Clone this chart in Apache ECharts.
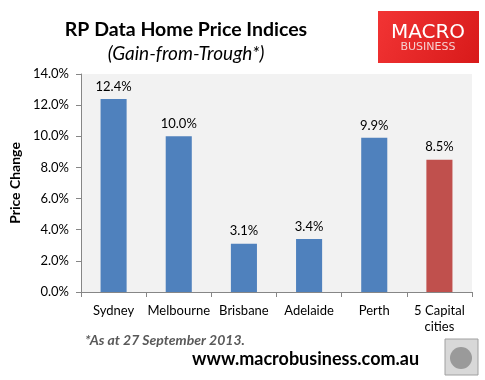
<!DOCTYPE html>
<html><head><meta charset="utf-8">
<script src="https://cdn.jsdelivr.net/npm/echarts@6/dist/echarts.min.js"></script>
<style>html,body{margin:0;padding:0;background:#fff}#c{width:485px;height:380px}</style>
</head><body><div id="c"></div>
<script>
const categories = ['Sydney', 'Melbourne', 'Brisbane', 'Adelaide', 'Perth', '5 Capital\ncities'];
const values = [12.4, 10.0, 3.1, 3.4, 9.9, 8.5];
const barColors = ['#4f81bd', '#4f81bd', '#4f81bd', '#4f81bd', '#4f81bd', '#c0504d'];
const yTicks = [0, 2, 4, 6, 8, 10, 12, 14];

const font = 'Lato, "Open Sans", sans-serif';
const chart = echarts.init(document.getElementById('c'), null, {renderer: 'canvas'});
chart.setOption({
  animation: false,
  backgroundColor: '#ffffff',
  grid: {left: 68, right: 13, top: 74, bottom: 88, containLabel: false,
         show: true, backgroundColor: '#f2f2f2', borderWidth: 0},
  title: [
    {text: 'RP Data Home Price Indices', left: 181, top: 15, textAlign: 'center',
     textStyle: {fontFamily: font, fontWeight: 'bold', fontSize: 19.5, color: '#000'}},
    {text: '(Gain-from-Trough*)', left: 181, top: 39, textAlign: 'center',
     textStyle: {fontFamily: font, fontStyle: 'italic', fontWeight: 'normal', fontSize: 19, color: '#000'}}
  ],
  xAxis: {
    type: 'category', data: categories,
    axisLine: {show: true, lineStyle: {color: '#868686', width: 1}},
    axisTick: {show: true, length: 5, alignWithLabel: false, lineStyle: {color: '#868686'}},
    axisLabel: {fontFamily: font, fontSize: 13, color: '#000', margin: 11, lineHeight: 16, interval: 0},
    splitLine: {show: false}
  },
  yAxis: {
    type: 'value', min: 0, max: 14, interval: 2,
    name: 'Price Change', nameLocation: 'middle', nameGap: 55, nameRotate: 90,
    nameTextStyle: {fontFamily: font, fontWeight: 'bold', fontSize: 14, color: '#000'},
    axisLine: {show: true, lineStyle: {color: '#868686'}},
    axisTick: {show: true, length: 5, lineStyle: {color: '#868686'}},
    axisLabel: {fontFamily: font, fontSize: 13, color: '#000', margin: 12,
      formatter: v => yTicks.includes(v) ? v.toFixed(1) + '%' : ''},
    splitLine: {show: false}
  },
  series: [{
    type: 'bar', barWidth: '40%',
    data: values.map((v, i) => ({value: v, itemStyle: {color: barColors[i]}})),
    label: {show: true, position: 'top', distance: 6, fontFamily: font, fontSize: 13, color: '#000',
      formatter: p => p.value.toFixed(1) + '%'}
  }],
  graphic: [
    {type: 'rect', shape: {x: 378, y: 11, width: 101, height: 52},
     style: {fill: new echarts.graphic.LinearGradient(0, 0, 1, 1, [{offset: 0, color: '#f23434'}, {offset: 1, color: '#d81a1a'}])}},
    {type: 'text', x: 428, y: 23, style: {text: 'MACRO', fill: '#ffffff', font: '20px "DejaVu Sans", sans-serif', textAlign: 'center'}},
    {type: 'text', x: 428, y: 42, style: {text: 'BUSINESS', fill: '#f5d0d0', font: '11px "DejaVu Sans", sans-serif', textAlign: 'center'}},
    {type: 'text', x: 85, y: 333, style: {text: '*As at 27 September 2013.', fill: '#595959', font: 'italic bold 14px ' + font}},
    {type: 'text', x: 192, y: 350, style: {text: 'www.macrobusiness.com.au', fill: '#000', font: 'bold 18px ' + font}},
    {type: 'rect', shape: {x: 445, y: 339, width: 33, height: 36},
     style: {fill: '#d8d8d8', stroke: '#a0a0a0', lineWidth: 1}},
    {type: 'circle', shape: {cx: 461, cy: 358, r: 11}, style: {fill: '#9a9a9a'}}
  ]
});
</script></body></html>
